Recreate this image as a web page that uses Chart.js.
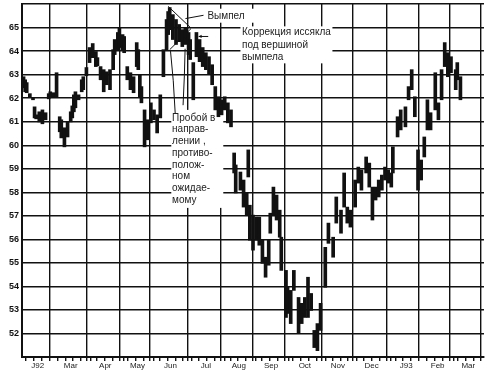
<!DOCTYPE html>
<html>
<head>
<meta charset="utf-8">
<script src="https://cdn.jsdelivr.net/npm/chart.js@4.4.0/dist/chart.umd.min.js"></script>
<style>
  html, body { margin: 0; padding: 0; background: #fff; }
</style>
</head>
<body>
<canvas id="chart" width="499" height="371"></canvas>
<script>
/* trading-day index of each bar (0 = start of the chart) */
const days = [
  1, 2, 3, 5, 7, 8, 9, 11, 13, 15, 17, 18, 20,
  22, 24, 25, 27, 29, 31, 32, 33, 34, 36, 38, 39, 41,
  43, 45, 47, 48, 50, 52, 54, 56, 58, 59, 61, 62,
  64, 65, 67, 69, 71, 73, 74, 75, 76, 78, 80, 82,
  84, 86, 88, 90, 92, 93, 94, 96, 98, 100, 102, 104,
  106, 107, 109, 111, 113, 115, 117, 119, 121, 123, 125, 127, 129, 131, 133,
  135, 136, 139, 141, 143, 144, 145, 147,
  149, 151, 153, 155, 157, 158, 160, 162, 164, 165,
  168, 169, 171, 173, 176, 178, 180, 182, 184, 186, 188, 190,
  193, 195, 198, 200, 203, 205, 207, 209,
  212, 214, 216, 219, 221, 223, 225, 227, 229, 231, 233,
  235, 236, 239, 241, 244, 246, 248, 250, 252, 254,
  256, 258, 260, 263, 265, 267, 269, 271, 273,
  276, 277, 279
];

/* high of each bar */
const highs = [
  62.91, 62.78, 62.66, 62.19, 62.02, 61.63, 61.29, 61.42, 61.50, 61.38, 62.19, 62.27, 62.23,
  63.08, 61.21, 61.08, 60.74, 60.99, 61.42, 61.67, 62.14, 62.27, 62.14, 62.78, 62.91, 63.30,
  64.15, 64.32, 63.98, 63.72, 63.34, 63.21, 63.12, 63.21, 64.06, 64.49, 64.79, 65.00,
  64.70, 64.62, 63.34, 63.08, 62.91, 64.36, 64.06, 63.00, 62.49, 61.50, 61.08, 61.80,
  61.50, 61.29, 62.14, 64.06, 65.34, 65.68, 65.85, 65.55, 65.34, 65.13, 64.91, 65.00,
  64.79, 64.49, 63.51, 64.79, 64.49, 64.15, 63.93, 63.76, 63.42, 62.49, 62.06, 61.93, 62.06, 61.80, 61.50,
  59.67, 59.16, 58.86, 58.52, 57.97, 59.80, 57.45, 57.03,
  56.94, 56.94, 55.96, 55.24, 55.96, 57.11, 58.22, 57.88, 57.24, 56.09,
  54.68, 53.96, 53.83, 54.68, 53.53, 53.28, 53.53, 54.39, 53.70, 52.13, 52.42, 53.28,
  55.66, 56.69, 56.09, 57.80, 57.24, 58.82, 57.37, 57.24,
  58.52, 59.07, 58.95, 59.50, 59.24, 58.22, 58.22, 58.52, 58.73, 59.07, 58.95,
  58.82, 59.93, 61.21, 61.50, 61.63, 62.49, 63.21, 62.06, 59.80, 59.37,
  60.35, 61.93, 61.38, 63.08, 61.80, 63.21, 64.36, 63.93, 63.76,
  63.21, 63.51, 62.91
];

/* low of each bar */
const lows = [
  62.44, 62.27, 62.23, 62.02, 61.93, 61.16, 61.12, 60.99, 60.91, 61.08, 61.97, 62.02, 62.06,
  62.06, 60.57, 60.31, 59.93, 60.35, 60.99, 61.16, 61.42, 61.59, 61.93, 62.27, 62.36, 62.95,
  63.51, 63.72, 63.34, 63.38, 62.78, 62.27, 62.57, 62.36, 63.21, 63.85, 64.06, 64.15,
  64.06, 63.93, 62.78, 62.36, 62.23, 63.34, 63.21, 62.06, 61.80, 59.93, 60.23, 60.95,
  61.08, 60.52, 61.16, 62.91, 64.06, 64.70, 64.91, 64.49, 64.28, 64.40, 64.19, 64.28,
  63.85, 63.64, 61.93, 63.76, 63.55, 63.34, 63.21, 63.00, 62.57, 61.50, 61.21, 61.29, 61.50, 60.95, 60.78,
  58.82, 57.97, 58.09, 57.37, 57.03, 58.65, 55.96, 55.54,
  55.96, 55.75, 54.98, 54.39, 54.90, 56.26, 57.03, 56.82, 56.09, 54.68,
  52.68, 52.85, 52.42, 53.83, 52.00, 52.42, 52.68, 52.68, 52.98, 51.40, 51.27, 52.13,
  53.96, 55.83, 55.24, 56.69, 56.26, 57.37, 56.69, 56.52,
  57.37, 58.39, 58.09, 58.82, 58.22, 56.82, 57.67, 57.80, 58.09, 58.52, 58.39,
  58.22, 58.82, 60.35, 60.65, 60.78, 61.93, 62.36, 61.21, 58.09, 58.52,
  59.50, 60.65, 60.65, 61.50, 61.08, 61.93, 63.34, 62.91, 63.08,
  62.36, 62.78, 61.93
];

/* начало каждого месяца (в торговых днях) и подписи месяцев */
const monthStarts = [0, 20, 42, 64, 83, 106, 128, 148, 169, 191, 211, 234, 255, 274, 294];
const monthLabels = ['J92', 'Mar', 'Apr', 'May', 'Jun', 'Jul', 'Aug', 'Sep', 'Oct', 'Nov', 'Dec', 'J93', 'Feb', 'Mar'];

/* шкала цен */
const priceMin = 51;
const priceMax = 66;
const priceTicks = [51, 52, 53, 54, 55, 56, 57, 58, 59, 60, 61, 62, 63, 64, 65, 66];

/* недельные засечки на оси времени */
const weekTicks = [];
for (let d = 0; d <= 294; d += 5) weekTicks.push(d);

const allTicks = [...new Set([...monthStarts, ...weekTicks])].sort((a, b) => a - b);
const monthMids = monthStarts.slice(0, -1).map((s, i) => (s + monthStarts[i + 1]) / 2);

const bars = days.map((d, i) => ({ x: d, y: [lows[i], highs[i]] }));

const ink = '#111';
const noteFont = '10px "Liberation Sans", Arial, sans-serif';

/* подписи на графике */
const notes = {
  id: 'notes',
  beforeDatasetsDraw(chart) {
    const { ctx, scales: { x, y } } = chart;
    ctx.save();
    ctx.fillStyle = '#fff';
    // белая подложка под текстом
    ctx.fillRect(x.getPixelForValue(95), y.getPixelForValue(61.5), 52, 98);
    ctx.fillRect(x.getPixelForValue(139), y.getPixelForValue(65.05), 92, 37);
    ctx.fillRect(x.getPixelForValue(117), y.getPixelForValue(65.8), 50, 14);
    ctx.restore();
  },
  afterDatasetsDraw(chart) {
    const { ctx, scales: { x, y } } = chart;
    const px = (d) => x.getPixelForValue(d);
    const py = (p) => y.getPixelForValue(p);
    ctx.save();
    ctx.strokeStyle = ink;
    ctx.fillStyle = ink;
    ctx.lineWidth = 1;

    // вымпел
    ctx.beginPath();
    ctx.moveTo(px(93), py(65.9));
    ctx.lineTo(px(107.5), py(64.98));
    ctx.moveTo(px(94), py(64.06));
    ctx.lineTo(px(107.5), py(64.95));
    ctx.stroke();

    // выноска к слову «Вымпел»
    ctx.beginPath();
    ctx.moveTo(px(115.5), py(65.52));
    ctx.lineTo(px(104), py(65.38));
    ctx.stroke();

    // стрелка «Коррекция…»
    ctx.beginPath();
    ctx.moveTo(px(118.5), py(64.62));
    ctx.lineTo(px(112.5), py(64.62));
    ctx.stroke();
    ctx.beginPath();
    ctx.moveTo(px(112.3), py(64.62));
    ctx.lineTo(px(114.3), py(64.69));
    ctx.lineTo(px(114.3), py(64.55));
    ctx.closePath();
    ctx.fill();

    // выноски от «Пробой…»
    ctx.beginPath();
    ctx.moveTo(px(97.5), py(61.35));
    ctx.quadraticCurveTo(px(96.5), py(62.8), px(94.5), py(64.0));
    ctx.moveTo(px(102.5), py(61.7));
    ctx.quadraticCurveTo(px(103.5), py(63.0), px(103.8), py(64.1));
    ctx.stroke();

    ctx.font = noteFont;
    ctx.textBaseline = 'middle';
    ctx.textAlign = 'left';
    ctx.fillStyle = '#222';
    ctx.fillText('Вымпел', px(118), py(65.47));
    ['Коррекция иссякла', 'под вершиной', 'вымпела'].forEach((t, i) => {
      ctx.fillText(t, px(140), py(64.78 - 0.52 * i));
    });
    ['Пробой в', 'направ-', 'лении ,', 'противо-', 'полож-', 'ном', 'ожидае-', 'мому'].forEach((t, i) => {
      ctx.fillText(t, px(95.5), py(61.16 - 0.5 * i));
    });
    ctx.restore();
  },
};

new Chart(document.getElementById('chart'), {
  type: 'bar',
  data: {
    datasets: [
      {
        data: bars,
        backgroundColor: ink,
        borderWidth: 0,
        barThickness: 3,
      },
    ],
  },
  options: {
    responsive: false,
    animation: false,
    devicePixelRatio: 1,
    layout: { padding: { top: 4, right: 15, left: 0, bottom: 0 } },
    plugins: { legend: { display: false }, tooltip: { enabled: false } },
    scales: {
      x: {
        type: 'linear',
        position: 'bottom',
        min: 0,
        max: 294,
        offset: false,
        weight: 0,
        afterBuildTicks: (s) => { s.ticks = allTicks.map((v) => ({ value: v })); },
        afterFit: (s) => { s.height = 4; },
        grid: {
          color: (c) => (c.tick && monthStarts.includes(c.tick.value) ? ink : 'rgba(0,0,0,0)'),
          tickColor: ink,
          lineWidth: 1.4,
          tickLength: 4,
        },
        border: { color: ink, width: 2 },
        ticks: { display: false },
      },
      xLabels: {
        type: 'linear',
        position: 'bottom',
        min: 0,
        max: 294,
        offset: false,
        weight: 1,
        afterBuildTicks: (s) => { s.ticks = monthMids.map((v) => ({ value: v })); },
        afterFit: (s) => { s.height = 10; s.paddingLeft = 0; s.paddingRight = 0; },
        grid: { display: false, drawTicks: false, tickLength: 0 },
        border: { display: false },
        ticks: {
          autoSkip: false,
          maxRotation: 0,
          padding: 0,
          color: '#222',
          font: { size: 8, family: '"Liberation Sans", Arial, sans-serif' },
          callback: (v, i) => monthLabels[i],
        },
      },
      y: {
        type: 'linear',
        position: 'left',
        min: priceMin,
        max: priceMax,
        afterBuildTicks: (s) => { s.ticks = priceTicks.map((v) => ({ value: v })); },
        afterFit: (s) => { s.width = 22; s.paddingTop = 0; s.paddingBottom = 0; },
        grid: { color: ink, lineWidth: 1.4, drawTicks: false },
        border: { color: ink, width: 2 },
        ticks: {
          padding: 3,
          color: ink,
          font: { size: 9, weight: 'bold', family: '"Liberation Sans", Arial, sans-serif' },
          callback: (v) => (v === priceMin || v === priceMax ? '' : v),
        },
      },
    },
  },
  plugins: [notes],
});
</script>
</body>
</html>
